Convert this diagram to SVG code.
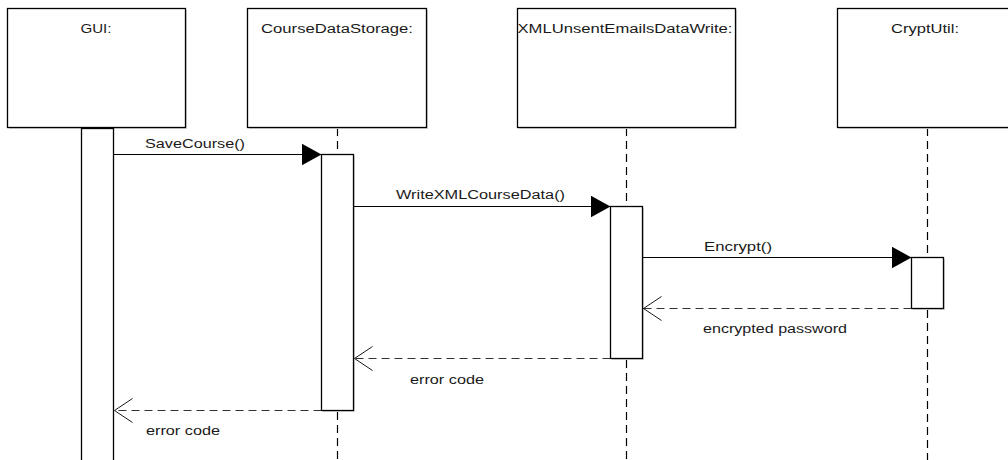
<svg xmlns="http://www.w3.org/2000/svg" width="1008" height="460" viewBox="0 0 1008 460">
<style>
  .box { fill: #ffffff; stroke: #000000; stroke-width: 1.3; }
  .act { fill: #ffffff; stroke: #000000; stroke-width: 1.3; }
  .life { stroke: #000000; stroke-width: 1.2; stroke-dasharray: 8 5; fill: none; }
  .msg { stroke: #000000; stroke-width: 1; fill: none; }
  .ret { stroke: #333333; stroke-width: 1; stroke-dasharray: 8 5; fill: none; }
  .head { stroke: #000000; stroke-width: 0.9; fill: none; }
  .t { font-family: "Liberation Sans", Arial, sans-serif; font-size: 12px; fill: #1a1a1a; }
  .shadow { fill: #d8d8d8; }
</style>
<defs>
  <marker id="filled" markerWidth="20" markerHeight="22" refX="20" refY="11" orient="auto" markerUnits="userSpaceOnUse">
    <path d="M0,0 L20,11 L0,22 Z" fill="#000000"/>
  </marker>
</defs>

<g id="lifelines">
  <line class="life" x1="337.5" y1="128" x2="337.5" y2="154"/>
  <line class="life" x1="337.5" y1="412" x2="337.5" y2="460"/>
  <line class="life" x1="626.5" y1="128" x2="626.5" y2="206"/>
  <line class="life" x1="626.5" y1="360" x2="626.5" y2="460"/>
  <line class="life" x1="927.5" y1="128" x2="927.5" y2="257"/>
  <line class="life" x1="927.5" y1="310" x2="927.5" y2="460"/>
</g>

<g id="node-gui">
  <rect class="shadow" x="9" y="10" width="178" height="119"/>
  <rect class="box" x="7.5" y="8.5" width="178" height="119"/>
  <text class="t" x="96" y="33" text-anchor="middle" textLength="31" lengthAdjust="spacingAndGlyphs">GUI:</text>
  <rect class="act" x="81.5" y="128.5" width="32" height="340"/>
</g>

<g id="node-cds">
  <rect class="shadow" x="249" y="10" width="179" height="119"/>
  <rect class="box" x="247.5" y="8.5" width="179" height="119"/>
  <text class="t" x="337" y="33" text-anchor="middle" textLength="152" lengthAdjust="spacingAndGlyphs">CourseDataStorage:</text>
  <rect class="shadow" x="323" y="156" width="32" height="256"/>
  <rect class="act" x="321.5" y="154.5" width="32" height="256"/>
</g>

<g id="node-xml">
  <rect class="shadow" x="519" y="10" width="218" height="119"/>
  <rect class="box" x="517.5" y="8.5" width="218" height="119"/>
  <text class="t" x="625" y="33" text-anchor="middle" textLength="215" lengthAdjust="spacingAndGlyphs">XMLUnsentEmailsDataWrite:</text>
  <rect class="shadow" x="612" y="208" width="32" height="152"/>
  <rect class="act" x="610.5" y="206.5" width="32" height="152"/>
</g>

<g id="node-crypt">
  <rect class="shadow" x="839" y="10" width="190" height="119"/>
  <rect class="box" x="837.5" y="8.5" width="190" height="119"/>
  <text class="t" x="925" y="33" text-anchor="middle" textLength="68" lengthAdjust="spacingAndGlyphs">CryptUtil:</text>
  <rect class="shadow" x="913" y="259" width="32" height="51"/>
  <rect class="act" x="911.5" y="257.5" width="32" height="51"/>
</g>

<g id="connectors">
  <line class="msg" x1="113.5" y1="154.5" x2="321.5" y2="154.5" marker-end="url(#filled)"/>
  <text class="t" x="145" y="148" textLength="100" lengthAdjust="spacingAndGlyphs">SaveCourse()</text>

  <line class="msg" x1="353.5" y1="206.5" x2="610.5" y2="206.5" marker-end="url(#filled)"/>
  <text class="t" x="396" y="199" textLength="169" lengthAdjust="spacingAndGlyphs">WriteXMLCourseData()</text>

  <line class="msg" x1="642.5" y1="257.5" x2="911.5" y2="257.5" marker-end="url(#filled)"/>
  <text class="t" x="704" y="251" textLength="68" lengthAdjust="spacingAndGlyphs">Encrypt()</text>

  <line class="ret" x1="911.5" y1="308.5" x2="643.5" y2="308.5"/>
  <path class="head" d="M661.5,296.5 L643.5,308.5 L661.5,320.5"/>
  <text class="t" x="703" y="333" textLength="144" lengthAdjust="spacingAndGlyphs">encrypted password</text>

  <line class="ret" x1="610.5" y1="358.5" x2="354.5" y2="358.5"/>
  <path class="head" d="M372.5,346.5 L354.5,358.5 L372.5,370.5"/>
  <text class="t" x="410" y="384" textLength="74" lengthAdjust="spacingAndGlyphs">error code</text>

  <line class="ret" x1="321.5" y1="410.5" x2="114.5" y2="410.5"/>
  <path class="head" d="M132.5,398.5 L114.5,410.5 L132.5,422.5"/>
  <text class="t" x="146" y="435" textLength="74" lengthAdjust="spacingAndGlyphs">error code</text>
</g>
</svg>
